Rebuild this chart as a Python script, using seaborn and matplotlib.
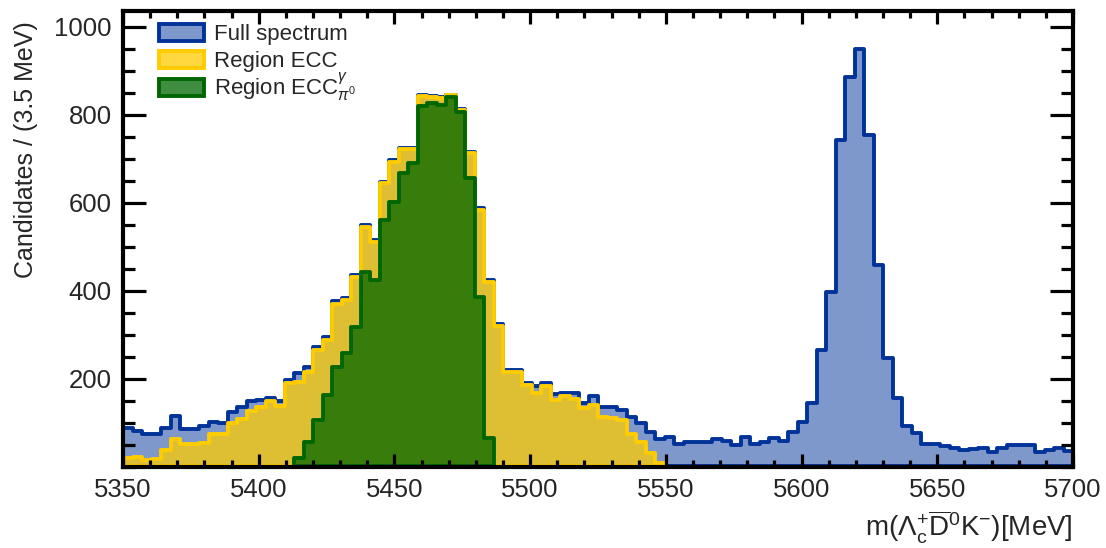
import numpy as np
import matplotlib
matplotlib.use("Agg")
import matplotlib.pyplot as plt
from matplotlib.patches import Patch
from matplotlib.ticker import MultipleLocator
from matplotlib.colors import to_rgba
import seaborn as sns

# Binning: 3.5 MeV bins between 5350 and 5700 MeV
mass_lo, mass_hi, bin_width = 5350.0, 5700.0, 3.5

# Candidates per bin, full spectrum (all 100 bins)
full_spectrum = [
    87, 80, 75, 75, 87, 115, 85, 85, 92, 102,
    98, 125, 136, 150, 152, 155, 148, 197, 212, 226,
    272, 295, 377, 383, 436, 549, 515, 648, 697, 724,
    724, 845, 843, 840, 846, 812, 715, 588, 424, 324,
    220, 220, 190, 182, 191, 165, 167, 167, 144, 161,
    135, 135, 129, 113, 98, 78, 62, 66, 52, 55,
    55, 55, 62, 57, 48, 68, 51, 56, 64, 57,
    79, 102, 144, 265, 398, 743, 886, 949, 754, 458,
    246, 155, 92, 77, 51, 51, 46, 41, 38, 40,
    41, 33, 41, 49, 49, 50, 33, 38, 41, 35,
]

# Region ECC: bins 0..56 (empty above)
ecc_first_bin = 0
region_ecc = [
    19, 21, 15, 16, 38, 62, 51, 51, 54, 75,
    75, 100, 107, 127, 136, 150, 138, 189, 193, 216,
    265, 288, 370, 378, 430, 545, 510, 645, 693, 721,
    721, 843, 841, 838, 844, 810, 713, 584, 420, 320,
    216, 216, 185, 167, 183, 152, 160, 153, 132, 140,
    113, 110, 106, 75, 55, 30, 7,
]

# Region ECC^gamma_pi0: bins 18..38 (empty elsewhere)
ecc_gamma_first_bin = 18
region_ecc_gamma = [
    20, 56, 106, 163, 227, 258, 318, 443, 424, 561,
    602, 667, 690, 819, 826, 823, 841, 807, 656, 386,
    64,
]

series_labels = ["Full spectrum", "Region ECC", r"Region ECC$^{\gamma}_{\pi^{0}}$"]
line_colors = ["#003399", "#FFCC00", "#006600"]
fill_alphas = [0.5, 0.75, 0.75]

x_ticks = [5350, 5400, 5450, 5500, 5550, 5600, 5650, 5700]
y_ticks = [200, 400, 600, 800, 1000]

sns.set_style("ticks")
plt.rcParams["font.family"] = ["Liberation Sans", "DejaVu Sans"]
plt.rcParams["mathtext.fontset"] = "custom"
plt.rcParams["mathtext.rm"] = "Liberation Sans"
plt.rcParams["mathtext.it"] = "Liberation Sans:italic"
plt.rcParams["mathtext.bf"] = "Liberation Sans:bold"

LW = 2.8

edges = np.linspace(mass_lo, mass_hi, int(round((mass_hi - mass_lo) / bin_width)) + 1)
centers = edges[:-1] + bin_width / 2

fig = plt.figure(figsize=(11.06, 5.48), dpi=100)
ax = fig.add_axes([123 / 1106, 1 - 466.5 / 548, 950 / 1106, 455.5 / 548])

# each histogram is binned only over the range where it has entries
series = [(0, full_spectrum), (ecc_first_bin, region_ecc),
          (ecc_gamma_first_bin, region_ecc_gamma)]
for (first, counts), col, a in zip(series, line_colors, fill_alphas):
    last = first + len(counts)
    sns.histplot(x=centers[first:last], weights=np.asarray(counts, dtype=float),
                 bins=edges[first:last + 1].tolist(),
                 element="step", fill=True, color=col, alpha=a,
                 linewidth=LW, ax=ax)

ax.set_xlim(mass_lo, mass_hi)
ax.set_ylim(0, 1036)
ax.set_xticks(x_ticks)
ax.set_xticklabels([str(t) for t in x_ticks])
ax.set_yticks(y_ticks)
ax.set_yticklabels([str(t) for t in y_ticks])
ax.xaxis.set_minor_locator(MultipleLocator(10))
ax.yaxis.set_minor_locator(MultipleLocator(50))
ax.set_axisbelow(False)

ax.tick_params(which="both", direction="in", top=True, right=True,
               width=2.3, color="black", labelsize=18.5)
ax.tick_params(axis="x", which="major", length=9.5, pad=8)
ax.tick_params(axis="x", which="minor", length=5)
ax.tick_params(axis="y", which="major", length=16.5, pad=8)
ax.tick_params(axis="y", which="minor", length=8.5)
for sp in ax.spines.values():
    sp.set_linewidth(3.0)
    sp.set_color("black")
    sp.set_zorder(5)

ax.set_xlabel(r"m($\Lambda_{\mathrm{c}}^{+}\overline{\mathrm{D}}^{0}\mathrm{K}^{-}$)[MeV]",
              fontsize=20, loc="right")
ax.xaxis.set_label_coords(1.0, -0.092)
ax.set_ylabel("Candidates / (3.5 MeV)", fontsize=18, loc="top")
ax.yaxis.set_label_coords(-0.0895, 0.978)

handles = [Patch(facecolor=to_rgba(c, a), edgecolor=c, linewidth=LW)
           for c, a in zip(line_colors, fill_alphas)]
legend_kw = dict(frameon=False, fontsize=16, handlelength=2.0, handleheight=0.8,
                 handletextpad=0.45, borderaxespad=0, borderpad=0)
# first two entries share one box; the entry with sub/superscripts gets its own
# box so that the row pitch stays even
leg_top = ax.legend(handles[:2], series_labels[:2], loc="upper left",
                    bbox_to_anchor=(0.038, 0.9715), labelspacing=0.25, **legend_kw)
ax.add_artist(leg_top)
ax.legend(handles[2:], series_labels[2:], loc="center left",
          bbox_to_anchor=(0.038, 0.833), **legend_kw)

fig.savefig("out.png", dpi=100, facecolor="white")
